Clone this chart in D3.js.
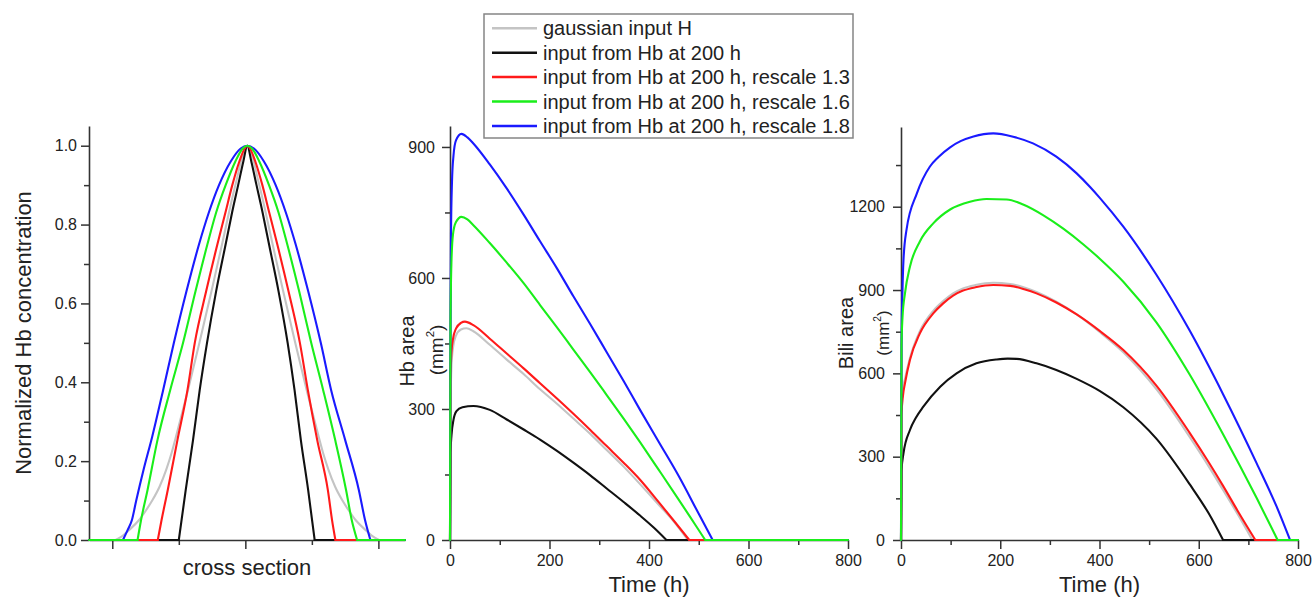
<!DOCTYPE html>
<html><head><meta charset="utf-8">
<script src="https://cdn.jsdelivr.net/npm/d3@7"></script>
<style>
body{margin:0;background:#fff}
svg{display:block}
text{font-family:"Liberation Sans",Arial,sans-serif;fill:#222}
</style>
</head><body>
<svg id="c" width="1312" height="597"></svg>
<script>
// ---------------- DATA ----------------
const legendLabels = ["gaussian input H","input from Hb at 200 h","input from Hb at 200 h, rescale 1.3","input from Hb at 200 h, rescale 1.6","input from Hb at 200 h, rescale 1.8"];

// Panel 1: normalized Hb concentration vs cross section [x, value]
const crossGray = [[-1.175,0],[-0.975,0],[-0.925,0.01],[-0.875,0.025],[-0.80,0.05],[-0.745,0.076],[-0.70,0.1],[-0.645,0.135],[-0.595,0.178],[-0.555,0.22],[-0.515,0.27],[-0.435,0.375],[-0.345,0.5],[-0.255,0.63],[-0.175,0.75],[-0.075,0.9],[0.015,1.0],[0.105,0.9],[0.205,0.75],[0.285,0.63],[0.375,0.5],[0.465,0.375],[0.545,0.27],[0.585,0.22],[0.625,0.178],[0.675,0.135],[0.73,0.1],[0.775,0.076],[0.83,0.05],[0.905,0.025],[0.955,0.01],[1.005,0],[1.2,0]];
const crossBlack = [[-1.175,0],[-0.50,0],[-0.448,0.127],[-0.393,0.254],[-0.343,0.38],[-0.288,0.5],[-0.22,0.63],[-0.148,0.75],[-0.1,0.83],[-0.054,0.9],[-0.015,0.96],[0.015,1.0],[0.045,0.96],[0.084,0.9],[0.13,0.83],[0.178,0.75],[0.25,0.63],[0.318,0.5],[0.37,0.38],[0.417,0.254],[0.472,0.127],[0.521,0],[1.2,0]];
const crossRed = [[-1.175,0],[-0.658,0],[-0.63,0.05],[-0.583,0.127],[-0.51,0.254],[-0.435,0.38],[-0.38,0.5],[-0.295,0.63],[-0.21,0.75],[-0.15,0.83],[-0.098,0.9],[-0.045,0.96],[-0.005,0.993],[0.015,1.0],[0.035,0.993],[0.075,0.96],[0.128,0.9],[0.18,0.83],[0.24,0.75],[0.325,0.63],[0.41,0.5],[0.47,0.38],[0.54,0.254],[0.62,0.127],[0.652,0.05],[0.677,0],[1.2,0]];
const crossGreen = [[-1.175,0],[-0.81,0],[-0.784,0.05],[-0.735,0.127],[-0.66,0.254],[-0.565,0.38],[-0.468,0.5],[-0.375,0.63],[-0.285,0.75],[-0.22,0.83],[-0.148,0.9],[-0.075,0.96],[-0.02,0.993],[0.015,1.0],[0.05,0.993],[0.105,0.96],[0.178,0.9],[0.25,0.83],[0.315,0.75],[0.405,0.63],[0.495,0.5],[0.585,0.38],[0.675,0.254],[0.757,0.127],[0.80,0.05],[0.84,0],[1.2,0]];
const crossBlue = [[-1.175,0],[-0.92,0],[-0.885,0.025],[-0.853,0.05],[-0.82,0.1],[-0.765,0.178],[-0.70,0.262],[-0.618,0.38],[-0.537,0.5],[-0.443,0.63],[-0.348,0.75],[-0.275,0.83],[-0.198,0.9],[-0.11,0.96],[-0.035,0.993],[0.015,1.0],[0.065,0.993],[0.14,0.96],[0.228,0.9],[0.305,0.83],[0.378,0.75],[0.473,0.63],[0.567,0.5],[0.645,0.38],[0.75,0.254],[0.853,0.127],[0.90,0.05],[0.94,0],[1.2,0]];

// Panel 2: Hb area (mm2) vs time (h) [t, value]
const hbGray = [[0,0],[1,300],[3,400],[6,440],[12,468],[22,482],[33,485],[47,478],[80,447],[114,413],[148,380],[181,345],[215,312],[248,278],[282,243],[315,206],[349,168],[382,128],[420,80],[450,42],[478,0],[800,0]];
const hbBlack = [[0,0],[1,200],[3,240],[7,275],[13,295],[25,304],[47,307],[80,298],[114,276],[148,253],[181,230],[215,204],[248,177],[282,148],[315,118],[349,87],[382,56],[410,28],[435,0],[800,0]];
const hbRed = [[0,0],[1,366],[3,430],[6,460],[12,484],[22,497],[30,500],[47,492],[80,461],[114,427],[148,393],[181,359],[215,324],[248,289],[282,252],[315,215],[349,177],[382,138],[420,86],[450,44],[481,0],[800,0]];
const hbGreen = [[0,0],[1,500],[3,640],[6,700],[12,728],[23,740],[35,734],[47,721],[80,680],[114,635],[148,588],[181,538],[215,487],[248,436],[282,384],[315,332],[349,278],[382,224],[420,160],[460,92],[490,40],[513,0],[800,0]];
const hbBlue = [[0,0],[1,500],[2,700],[4,820],[7,880],[12,915],[23,930],[35,922],[47,908],[80,860],[114,805],[148,745],[181,684],[215,622],[248,558],[282,494],[315,430],[349,364],[382,298],[420,224],[460,146],[500,60],[528,0],[800,0]];

// Panel 3: Bili area (mm2) vs time (h) [t, value]
const biliGray = [[0,0],[1,480],[4,545],[8,580],[18,655],[38,752],[65,825],[85,860],[105,888],[125,906],[150,918],[186,926],[220,922],[250,908],[273,893],[313,858],[354,812],[401,748],[448,676],[515,542],[582,370],[620,265],[649,180],[680,88],[708,0],[800,0]];
const biliBlack = [[0,0],[1,250],[5,312],[18,396],[30,440],[45,480],[79,552],[112,600],[152,636],[193,650],[215,653],[233,652],[273,636],[313,612],[354,580],[401,536],[448,478],[515,364],[582,200],[620,96],[649,0],[800,0]];
const biliRed = [[0,0],[1,450],[4,520],[8,564],[18,648],[38,744],[65,816],[85,852],[105,880],[125,898],[150,910],[186,918],[220,915],[250,902],[273,888],[313,855],[354,812],[401,752],[448,684],[515,555],[582,385],[620,280],[649,195],[680,100],[714,0],[800,0]];
const biliGreen = [[0,0],[1,700],[3,800],[8,888],[18,984],[38,1075],[65,1140],[99,1190],[139,1218],[172,1228],[213,1226],[246,1208],[287,1169],[327,1121],[367,1065],[401,1012],[448,930],[515,783],[582,595],[649,381],[717,150],[759,0],[800,0]];
const biliBlue = [[0,0],[1,700],[3,900],[5,1008],[11,1116],[32,1248],[58,1344],[75,1378],[99,1414],[120,1436],[146,1453],[186,1464],[226,1452],[266,1428],[313,1380],[354,1320],[381,1271],[401,1231],[448,1128],[515,954],[582,753],[649,525],[717,275],[757,120],[784,0],[800,0]];

// Tick values
const crossYMajor = [0,0.2,0.4,0.6,0.8,1.0];
const crossYMinor = [0.1,0.3,0.5,0.7,0.9];
const crossXMajor = [-1,0,1];
const crossXMinor = [-0.5,0.5];
const hbYMajor = [0,300,600,900];
const hbYMinor = [150,450,750];
const biliYMajor = [0,300,600,900,1200];
const biliYMinor = [150,450,750,1050,1350];
const timeMajor = [0,200,400,600,800];
const timeMinor = [100,300,500,700];

// ---------------- STYLE / LAYOUT ----------------
const colors = ["#c4c4c4","#111111","#ff1a1a","#1aee1a","#1a1aff"];
const drawOrder = [0,1,2,4,3]; // gray, black, red, blue, green (green on top)
const svg = d3.select("#c");

// split a series into flat zero runs (straight) and the curved part (smooth)
function pieces(data) {
  let i0 = data.findIndex(d => d[1] > 0);
  let i1 = data.length - 1;
  while (i1 >= 0 && !(data[i1][1] > 0)) i1--;
  const a = Math.max(0, i0 - 1), b = Math.min(data.length - 1, i1 + 1);
  return {left: data.slice(0, a + 1), mid: data.slice(a, b + 1), right: data.slice(b)};
}

function drawPanel(p) {
  const x = d3.scaleLinear().domain(p.xDomain).range(p.xRange);
  const y = d3.scaleLinear().domain(p.yDomain).range(p.yRange);
  const g = svg.append("g");
  const ym = g.append("g").attr("transform",`translate(${p.xRange[0]},0)`)
    .call(d3.axisLeft(y).tickValues(p.yMinor).tickSize(5).tickFormat(""));
  ym.select(".domain").remove();
  const xm = g.append("g").attr("transform",`translate(0,${p.yRange[0]})`)
    .call(d3.axisBottom(x).tickValues(p.xMinor).tickSize(5).tickFormat(""));
  xm.select(".domain").remove();
  const ya = g.append("g").attr("transform",`translate(${p.xRange[0]},0)`)
    .call(d3.axisLeft(y).tickValues(p.yMajor).tickSize(8).tickSizeOuter(0).tickPadding(p.yPad).tickFormat(p.yFmt));
  const xa = g.append("g").attr("transform",`translate(0,${p.yRange[0]})`)
    .call(d3.axisBottom(x).tickValues(p.xMajor).tickSize(9).tickSizeOuter(0).tickPadding(6).tickFormat(p.xFmt));
  [ym,xm,ya,xa].forEach(a => {
    a.selectAll("line").attr("stroke","#333").attr("stroke-width",1.5);
    a.selectAll(".domain").attr("stroke","#333").attr("stroke-width",1.6);
    a.selectAll("text").attr("font-size",16).attr("font-family","Liberation Sans, Arial, sans-serif").attr("fill","#222");
  });
  const smooth = d3.line().x(d => x(d[0])).y(d => y(d[1])).curve(d3.curveMonotoneX);
  const straight = d3.line().x(d => x(d[0])).y(d => y(d[1]));
  drawOrder.forEach(i => {
    const pc = pieces(p.series[i]);
    const sg = g.append("g").attr("fill","none").attr("stroke", colors[i])
      .attr("stroke-width", 2.1).attr("stroke-linejoin","round").attr("stroke-linecap","round");
    if (pc.left.length > 1) sg.append("path").attr("d", straight(pc.left));
    sg.append("path").attr("d", smooth(pc.mid));
    if (pc.right.length > 1) sg.append("path").attr("d", straight(pc.right));
  });
}

drawPanel({
  xDomain:[-1.175,1.2], xRange:[89,405], yDomain:[0,1.05], yRange:[540,126],
  series:[crossGray,crossBlack,crossRed,crossGreen,crossBlue],
  yMajor:crossYMajor, yMinor:crossYMinor, xMajor:crossXMajor, xMinor:crossXMinor,
  yFmt:d3.format(".1f"), xFmt:() => "", yPad:4
});
drawPanel({
  xDomain:[0,800], xRange:[450,848], yDomain:[0,948], yRange:[540,126],
  series:[hbGray,hbBlack,hbRed,hbGreen,hbBlue],
  yMajor:hbYMajor, yMinor:hbYMinor, xMajor:timeMajor, xMinor:timeMinor,
  yFmt:d3.format("d"), xFmt:d3.format("d"), yPad:7
});
drawPanel({
  xDomain:[0,800], xRange:[901,1298], yDomain:[0,1487], yRange:[540,127],
  series:[biliGray,biliBlack,biliRed,biliGreen,biliBlue],
  yMajor:biliYMajor, yMinor:biliYMinor, xMajor:timeMajor, xMinor:timeMinor,
  yFmt:d3.format("d"), xFmt:d3.format("d"), yPad:8
});

// Axis titles
function vText(x, y, size, txt, sup) {
  const t = svg.append("text").attr("transform",`translate(${x},${y}) rotate(-90)`)
    .attr("text-anchor","middle").attr("font-size",size);
  if (sup) {
    t.append("tspan").text("(mm");
    t.append("tspan").attr("font-size",size*0.6).attr("dy",-size*0.45).text("2");
    t.append("tspan").attr("dy",size*0.45).text(")");
  } else t.text(txt);
}
vText(31, 333, 22, "Normalized Hb concentration");
vText(414, 351, 20, "Hb area");
vText(443, 350, 19, "", true);
vText(853, 333, 20, "Bili area");
vText(889, 333, 17, "", true);
svg.append("text").attr("x",247).attr("y",575).attr("text-anchor","middle").attr("font-size",22).text("cross section");
svg.append("text").attr("x",649).attr("y",592).attr("text-anchor","middle").attr("font-size",22).text("Time (h)");
svg.append("text").attr("x",1099.5).attr("y",592).attr("text-anchor","middle").attr("font-size",22).text("Time (h)");

// Legend
const lg = svg.append("g");
lg.append("rect").attr("x",484).attr("y",14).attr("width",369).attr("height",124)
  .attr("fill","#fff").attr("stroke","#858585").attr("stroke-width",1.5);
legendLabels.forEach((lab,i) => {
  const cy = 28.3 + i*24.4;
  lg.append("line").attr("x1",492).attr("x2",537).attr("y1",cy).attr("y2",cy)
    .attr("stroke",colors[i]).attr("stroke-width",2.5);
  lg.append("text").attr("x",543).attr("y",cy+7).attr("font-size",20).text(lab);
});
</script>
</body></html>
